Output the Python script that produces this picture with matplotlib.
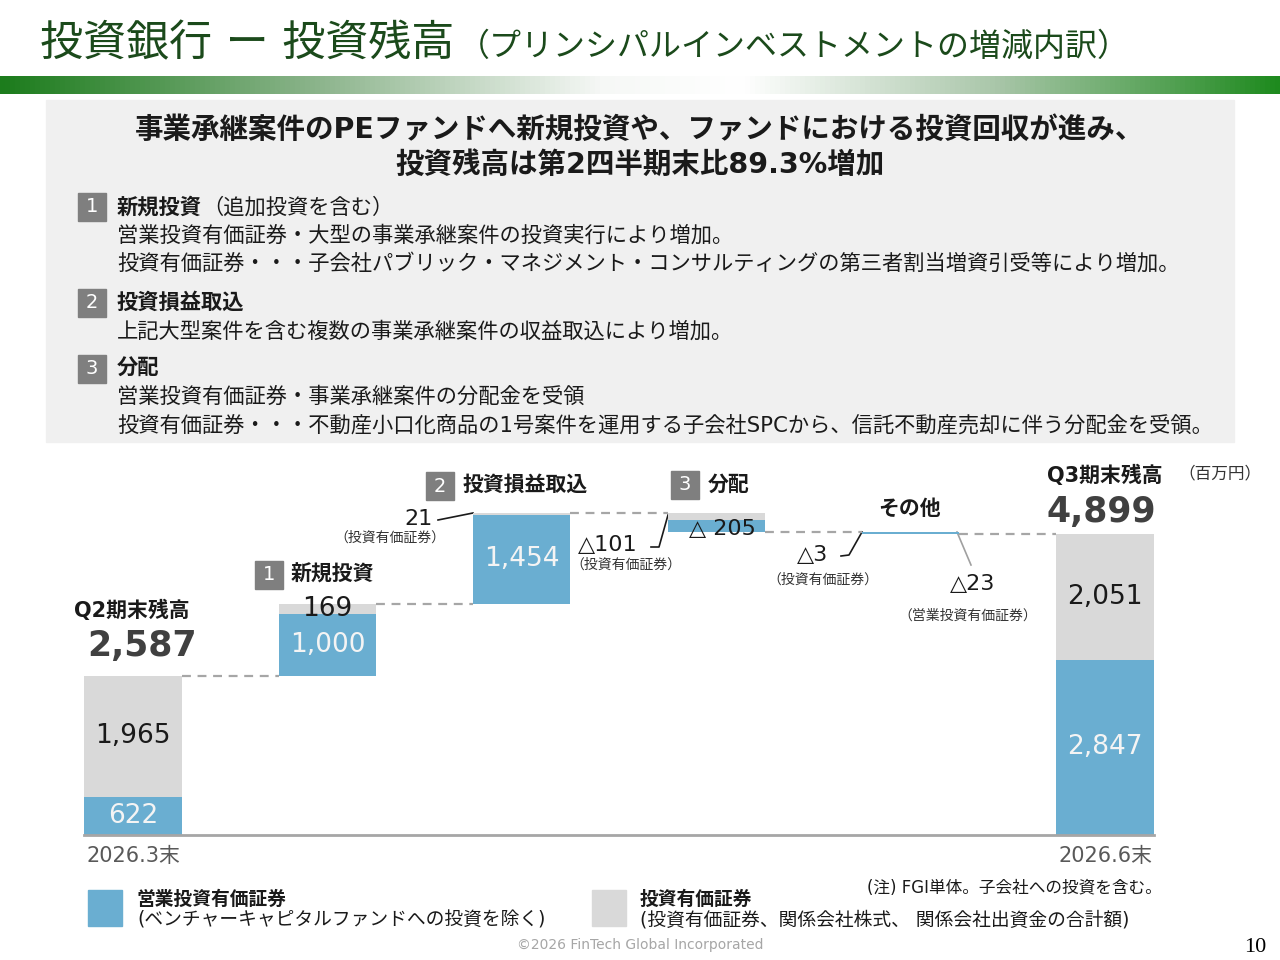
import numpy as np
import matplotlib
matplotlib.use("Agg")
import matplotlib.pyplot as plt
from matplotlib.patches import Rectangle
from matplotlib.colors import LinearSegmentedColormap

# 欧文は Verdana 風の DejaVu Sans、和文は Noto Sans CJK JP
plt.rcParams['font.family'] = ['DejaVu Sans', 'Noto Sans CJK JP']

# ── データ (百万円) ───────────────────────────────
steps   = ["2026.3末", "新規投資", "投資損益取込", "分配", "その他", "2026.6末"]
eigyo   = [622, 1000, 1454, -205, -23, 2847]    # 営業投資有価証券
toushi  = [1965, 169, 21, -101, -3, 2051]       # 投資有価証券
start_total = 2587
end_total   = 4899

C_BLUE  = "#6aaed1"
C_GREY  = "#d9d9d9"
C_BOX   = "#7f7f7f"
C_DASH  = "#a6a6a6"
C_TITLE = "#1b4a1b"
C_TEXT  = "#1a1a1a"

fig = plt.figure(figsize=(12.8, 9.6), dpi=100)
fig.patch.set_facecolor("white")

# 背景用 (ピクセル座標)
bg = fig.add_axes([0, 0, 1, 1])
bg.axis("off")

# ── タイトル ──────────────────────────────────────
bg.text(40, 44, "投資銀行 ー 投資残高", fontsize=31, color=C_TITLE, va="center")
bg.text(458, 47, "（プリンシパルインベストメントの増減内訳）", fontsize=23,
        color=C_TITLE, va="center")

cmap = LinearSegmentedColormap.from_list(
    "band", [(0, "#1c7c1c"), (0.25, "#8db58d"), (0.47, "#f6f8f6"),
             (0.58, "#ffffff"), (0.78, "#a9c6a9"), (1, "#1e8a1e")])
bg.imshow(np.linspace(0, 1, 256)[None, :], cmap=cmap,
          extent=[0, 1280, 94, 76], aspect="auto")

# ── 説明ボックス ──────────────────────────────────
bg.add_patch(Rectangle((46, 100), 1188, 342, color="#f0f0f0", zorder=0))
bg.text(640, 130, "事業承継案件のPEファンドへ新規投資や、ファンドにおける投資回収が進み、",
        ha="center", va="center", fontsize=20.5, fontweight="bold", color=C_TEXT)
bg.text(640, 165, "投資残高は第2四半期末比89.3%増加",
        ha="center", va="center", fontsize=20.5, fontweight="bold", color=C_TEXT)


def num_box(x, y, n, size=28):
    bg.add_patch(Rectangle((x, y - size / 2), size, size, color=C_BOX))
    bg.text(x + size / 2, y, n, color="white", ha="center", va="center", fontsize=14)


items = [
    (207, "1", "新規投資", "（追加投資を含む）",
     ["営業投資有価証券・大型の事業承継案件の投資実行により増加。",
      "投資有価証券・・・子会社パブリック・マネジメント・コンサルティングの第三者割当増資引受等により増加。"]),
    (303, "2", "投資損益取込", "",
     ["上記大型案件を含む複数の事業承継案件の収益取込により増加。"]),
    (369, "3", "分配", "",
     ["営業投資有価証券・事業承継案件の分配金を受領",
      "投資有価証券・・・不動産小口化商品の1号案件を運用する子会社SPCから、信託不動産売却に伴う分配金を受領。"]),
]
for y, n, head, note, lines in items:
    num_box(78, y, n)
    bg.text(117, y, head, fontsize=15.3, fontweight="bold", va="center", color=C_TEXT)
    if note:
        bg.text(117 + 15.3 * 1.389 * len(head), y, note, fontsize=15.3, va="center", color=C_TEXT)
    for k, line in enumerate(lines):
        bg.text(117, y + 28 * (k + 1), line, fontsize=15.3, va="center", color=C_TEXT)

# ── ウォーターフォール ────────────────────────────
px_l, px_r = 35.8, 1202.2      # index -0.5 .. 5.5
base_px, scale = 835, 0.0615   # px / 百万円
ymax = 6200
top_px = base_px - ymax * scale
ax = fig.add_axes([px_l / 1280, (960 - base_px) / 960,
                   (px_r - px_l) / 1280, (base_px - top_px) / 960])
ax.set_xlim(-0.5, 5.5)
ax.set_ylim(0, ymax)
ax.axis("off")
ax.patch.set_alpha(0)

x = np.arange(len(steps))
blue_bottom, grey_bottom, levels = [], [], []
run = 0
for i, (b, g) in enumerate(zip(eigyo, toushi)):
    if i in (0, len(steps) - 1):
        bb, gb = 0, b
        run = b + g
    elif b >= 0:
        bb, gb = run, run + b
        run += b + g
    else:
        gb = run + g
        bb = run + g + b
        run += b + g
    blue_bottom.append(bb)
    grey_bottom.append(gb)
    levels.append(run)
levels[-2] = end_total

ax.bar(x, np.abs(eigyo), bottom=blue_bottom, width=0.5, color=C_BLUE, zorder=2)
ax.bar(x, np.abs(toushi), bottom=grey_bottom, width=0.5, color=C_GREY, zorder=2)

for i in range(len(steps) - 1):
    ax.plot([i + 0.25, i + 0.75], [levels[i]] * 2, ls=(0, (4, 3)),
            color=C_DASH, lw=1.6, zorder=1)
ax.plot([-0.25, 5.25], [0, 0], color="#a6a6a6", lw=2, clip_on=False, zorder=3)


def fmt(v, sep=" "):
    return f"{v:,}" if v >= 0 else f"△{sep}{-v:,}"


def mid(bottom, v):
    return bottom + abs(v) / 2


# 棒内ラベル
for i in (0, 1, 2, 5):
    ax.text(x[i], mid(blue_bottom[i], eigyo[i]), fmt(eigyo[i]), ha="center",
            va="center", fontsize=19, color="#f4f4f4", zorder=4)
for i in (0, 1, 5):
    ax.text(x[i], mid(grey_bottom[i], toushi[i]), fmt(toushi[i]), ha="center",
            va="center", fontsize=19, color=C_TEXT, zorder=4)
ax.text(x[3] + 0.03, mid(blue_bottom[3], eigyo[3]) - 60, fmt(eigyo[3]), ha="center",
        va="center", fontsize=16, color=C_TEXT, zorder=4)

# ── チャート周りの注記 (ピクセル座標) ─────────────
bg.text(132, 610, "Q2期末残高", fontsize=15, fontweight="bold", ha="center", va="center", color=C_TEXT)
bg.text(142, 646, f"{start_total:,}", fontsize=25, fontweight="bold", ha="center", va="center", color="#404040")
bg.text(1105, 475, "Q3期末残高", fontsize=15, fontweight="bold", ha="center", va="center", color=C_TEXT)
bg.text(1101, 512, f"{end_total:,}", fontsize=25, fontweight="bold", ha="center", va="center", color="#404040")
bg.text(1220, 473, "（百万円）", fontsize=12, ha="center", va="center", color="#333333")

num_box(255, 575, "1")
bg.text(291, 574, steps[1], fontsize=15, fontweight="bold", va="center", color=C_TEXT)
num_box(426, 486, "2")
bg.text(463, 485, steps[2], fontsize=15, fontweight="bold", va="center", color=C_TEXT)
num_box(671, 485, "3")
bg.text(708, 485, steps[3], fontsize=15, fontweight="bold", va="center", color=C_TEXT)
bg.text(910, 509, steps[4], fontsize=15, fontweight="bold", ha="center", va="center", color=C_TEXT)

small = dict(fontsize=10, ha="center", va="center", color="#333333")
# 21
bg.text(418, 519, f"{toushi[2]}", fontsize=16, ha="center", va="center", color=C_TEXT)
bg.plot([438, 473], [520, 513], color=C_TEXT, lw=1.2)
bg.text(390, 538, "（投資有価証券）", **small)
# △101
bg.text(608, 545, fmt(toushi[3], ""), fontsize=16, ha="center", va="center", color=C_TEXT)
bg.plot([651, 659, 668], [547, 547, 515], color=C_TEXT, lw=1.2)
bg.text(626, 565, "（投資有価証券）", **small)
# △3
bg.text(813, 555, fmt(toushi[4], ""), fontsize=16, ha="center", va="center", color=C_TEXT)
bg.plot([841, 849, 862], [556, 555, 532], color=C_TEXT, lw=1.2)
bg.text(823, 580, "（投資有価証券）", **small)
# △23
bg.text(973, 584, fmt(eigyo[4], ""), fontsize=16, ha="center", va="center", color=C_TEXT)
bg.plot([957, 971], [532, 565], color="#a0a0a0", lw=1.2)
bg.text(968, 616, "（営業投資有価証券）", **small)

bg.text(86, 856, steps[0], fontsize=15, va="center", color="#595959")
bg.text(1153, 856, steps[5], fontsize=15, ha="right", va="center", color="#595959")

# ── 凡例・脚注 ────────────────────────────────────
bg.add_patch(Rectangle((88, 890), 34, 36, color=C_BLUE))
bg.text(137, 899, "営業投資有価証券", fontsize=13.5, fontweight="bold", va="center", color=C_TEXT)
bg.text(137, 920, "(ベンチャーキャピタルファンドへの投資を除く)", fontsize=13.5, va="center", color=C_TEXT)
bg.add_patch(Rectangle((592, 890), 34, 36, color=C_GREY))
bg.text(640, 899, "投資有価証券", fontsize=13.5, fontweight="bold", va="center", color=C_TEXT)
bg.text(640, 920, "(投資有価証券、関係会社株式、 関係会社出資金の合計額)", fontsize=13.5, va="center", color=C_TEXT)
bg.text(1162, 888, "(注) FGI単体。子会社への投資を含む。", fontsize=12, ha="right", va="center", color=C_TEXT)

bg.text(640, 945, "©2026 FinTech Global Incorporated", fontsize=10, ha="center", va="center", color="#a6a6a6")
bg.text(1255, 947, "10", fontsize=16, ha="center", va="center", color="black", family="Liberation Serif")

bg.set_xlim(0, 1280)
bg.set_ylim(960, 0)

fig.savefig("out.png", dpi=100, facecolor="white")
